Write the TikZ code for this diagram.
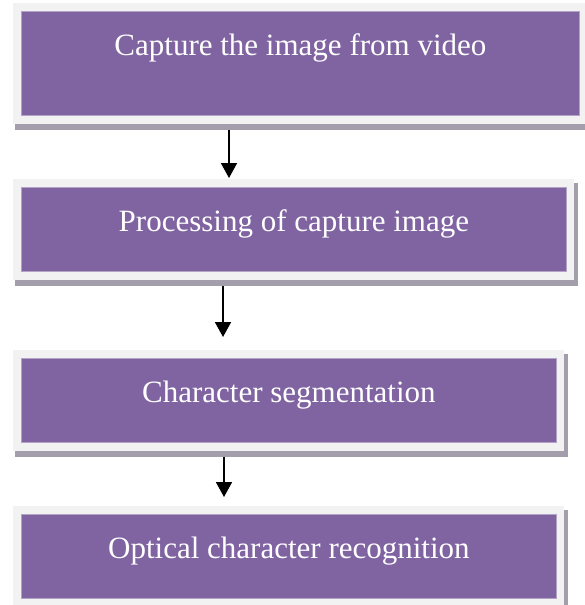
\documentclass[tikz,border=0pt]{standalone}
\usepackage{fontspec}
\setmainfont{Liberation Serif}
\usetikzlibrary{arrows.meta,backgrounds,calc}
\definecolor{stageFill}{RGB}{128,100,162}
\definecolor{stageLine}{RGB}{178,163,199}
\definecolor{frameGray}{RGB}{242,242,242}
\definecolor{shadowGray}{RGB}{164,157,172}
\tikzset{>={Triangle[length=15pt,width=16pt]}}
\tikzset{stage/.style 2 args={rectangle, anchor=north west, fill=stageFill, draw=stageLine, line width=.8pt,
	text=white, font=\fontsize{31}{31}\selectfont, inner sep=0pt, text height=44pt,
	minimum width=#1, text depth=#2}}

\begin{document}
\begin{tikzpicture}[x=1pt,y=-1pt]
		\useasboundingbox (0,0) rectangle (584,605);
		\clip (0,0) rectangle (584,605);
		\node[stage={558pt}{60pt}] (b1) at (21,11) {Capture the image from video};
		\node[stage={545pt}{40pt}] (b2) at (21,187) {Processing of capture image};
		\node[stage={535pt}{40pt}] (b3) at (21,358) {Character segmentation};
		\node[stage={535pt}{40pt}] (b4) at (21,514) {Optical character recognition};
		
		\begin{scope}[on background layer]
		\foreach \b in {b1,b2,b3,b4}{
			\fill[shadowGray] ([shift={(-6,-4)}]\b.north west) rectangle ([shift={(11,14)}]\b.south east);% shadow
			\fill[frameGray] ([shift={(-8,-8)}]\b.north west) rectangle ([shift={(7,8)}]\b.south east);
		}
		\end{scope}
		
		\coordinate (a1) at (229,0);
		\coordinate (a2) at (223,0);
		\coordinate (a3) at (224,0);
		\draw[->, line width=1.8pt] ($(b1.south -| a1)+(0,14)$) -- ($(b2.north -| a1)+(0,-9)$);
		\draw[->, line width=1.8pt] ($(b2.south -| a2)+(0,14)$) -- ($(b3.north -| a2)+(0,-21)$);
		\draw[->, line width=1.8pt] ($(b3.south -| a3)+(0,14)$) -- ($(b4.north -| a3)+(0,-17)$);
		
\end{tikzpicture}
\end{document}
